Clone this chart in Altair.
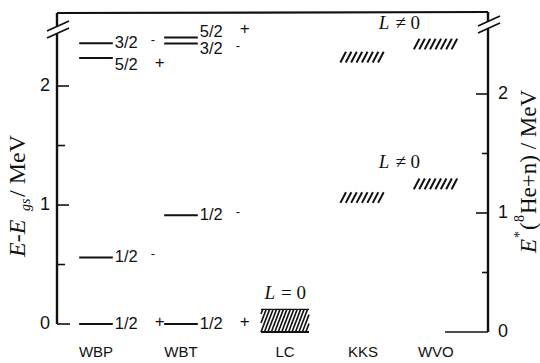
import altair as alt
import numpy as np
import pandas as pd

# ---------------- data ----------------
models = ["WBP", "WBT", "LC", "KKS", "WVO"]
model_pos = [0.905, 2.877, 5.29, 7.10, 8.79]      # column centres on the 0-10 x scale

# discrete levels, E - E_gs (MeV)
lvl_model  = ["WBP", "WBP", "WBP", "WBP", "WBT", "WBT", "WBT", "WBT"]
lvl_J      = ["1/2", "1/2", "5/2", "3/2", "1/2", "1/2", "3/2", "5/2"]
lvl_parity = ["+", "-", "+", "-", "+", "-", "-", "+"]
lvl_E      = [0.0, 0.56, 2.235, 2.36, 0.0, 0.915, 2.357, 2.408]

# hatched bands, E*(8He+n) (MeV)
band_model = ["LC", "KKS", "KKS", "WVO", "WVO"]
band_lo    = [0.0, 1.085, 2.265, 1.20, 2.375]
band_hi    = [0.19, 1.175, 2.355, 1.29, 2.465]
band_L     = ["L = 0", "L ≠ 0", "L ≠ 0", "L ≠ 0", "L ≠ 0"]

left_ticks  = [0, 0.5, 1, 1.5, 2]
right_ticks = [0, 0.5, 1, 1.5, 2]
tick_labels = [0, 1, 2]

E_STAR_ZERO = -0.067      # value of E - E_gs where E*(8He+n) = 0

# ---------------- layout / style ----------------
W, H = 431, 319
PX = 119.0                           # pixels per MeV
Y_MIN = E_STAR_ZERO
Y_MAX = Y_MIN + H / PX
INK = "#111111"
SANS = "Liberation Sans"
SERIF = "Liberation Serif"
LEVEL_HW = 0.39
BAND_HW = {"LC": 0.557, "KKS": 0.525, "WVO": 0.51}
LABEL_NUDGE = {("WBP", "5/2"): 7.0, ("WBT", "3/2"): 5.5, ("WBT", "5/2"): -5.5}

xs = alt.Scale(domain=[0, 10])
ys = alt.Scale(domain=[Y_MIN, Y_MAX])
pos = dict(zip(models, model_pos))
one = pd.DataFrame({"k": [0]})

# levels table
lv = pd.DataFrame({"model": lvl_model, "J": lvl_J, "P": lvl_parity, "E": lvl_E})
lv["xc"] = lv["model"].map(pos)
lv["x_lo"] = lv["xc"] - LEVEL_HW
lv["x_hi"] = lv["xc"] + LEVEL_HW
lv["label_y"] = [e - LABEL_NUDGE.get((m, j), 0.0) / PX for m, j, e in zip(lvl_model, lvl_J, lvl_E)]

# bands table
bd = pd.DataFrame({"model": band_model, "lo": band_lo, "hi": band_hi, "L": band_L})
bd["xc"] = bd["model"].map(pos)
bd["hw"] = bd["model"].map(BAND_HW)
bd["x_lo"] = bd["xc"] - bd["hw"]
bd["x_hi"] = bd["xc"] + bd["hw"]
bd["y_lo"] = bd["lo"] + E_STAR_ZERO
bd["y_hi"] = bd["hi"] + E_STAR_ZERO


def hatch_rows(x_lo, x_hi, y_lo, y_hi, spacing, slant, clip):
    rows = []
    if clip:
        starts = np.arange(x_lo - slant + spacing / 2, x_hi, spacing)
    else:
        starts = np.arange(x_lo, x_hi - slant + 1e-9, spacing)
    for s in starts:
        t0 = max(0.0, (x_lo - s) / slant) if clip else 0.0
        t1 = min(1.0, (x_hi - s) / slant) if clip else 1.0
        if t1 <= t0:
            continue
        rows.append(dict(x=s + slant * t0, x2=s + slant * t1,
                         y=y_lo + (y_hi - y_lo) * t0, y2=y_lo + (y_hi - y_lo) * t1))
    return rows


h_rows, l_rows = [], []
for _, r in bd.iterrows():
    if r["model"] == "LC":
        l_rows += hatch_rows(r.x_lo, r.x_hi, r.y_lo, r.y_hi, 0.08, 0.2, True)
    else:
        h_rows += hatch_rows(r.x_lo, r.x_hi, r.y_lo, r.y_hi, 0.125, 0.13, False)
hatch = pd.DataFrame(h_rows)
lhatch = pd.DataFrame(l_rows)

# L annotations
ann = []
lc = bd[bd.model == "LC"].iloc[0]
ann.append(dict(x=lc.xc, y=lc.y_hi, L=lc.L))
kk = bd[bd.model == "KKS"].sort_values("lo").reset_index(drop=True)
wv = bd[bd.model == "WVO"].sort_values("lo").reset_index(drop=True)
for a, b in zip(kk.itertuples(), wv.itertuples()):
    ann.append(dict(x=(a.xc + b.xc) / 2, y=max(a.y_hi, b.y_hi), L=a.L))
ann = pd.DataFrame(ann)
ann["head"] = ann["L"].str[0]
ann["rest"] = ann["L"].str[1:].str.strip()

layers = []

# level lines
layers.append(alt.Chart(lv).mark_rule(strokeWidth=2, color=INK).encode(
    x=alt.X("x_lo:Q", scale=xs, axis=None), x2="x_hi:Q",
    y=alt.Y("E:Q", scale=ys, axis=None)))
# J labels
layers.append(alt.Chart(lv).mark_text(align="left", baseline="middle", dx=2, font=SANS,
                                      fontSize=16.5, color=INK).encode(
    x=alt.X("x_hi:Q", scale=xs), y=alt.Y("label_y:Q", scale=ys), text="J:N"))
# parities
layers.append(alt.Chart(lv).transform_filter(alt.datum.P == "+").mark_text(
    align="center", baseline="middle", dx=47, dy=-2.5, font=SANS, fontSize=17, color=INK).encode(
    x=alt.X("x_hi:Q", scale=xs), y=alt.Y("label_y:Q", scale=ys), text="P:N"))
layers.append(alt.Chart(lv).transform_filter(alt.datum.P == "-").mark_text(
    align="center", baseline="middle", dx=40, dy=-3.5, font=SANS, fontSize=13, color=INK).encode(
    x=alt.X("x_hi:Q", scale=xs), y=alt.Y("label_y:Q", scale=ys), text="P:N"))

# hatching
layers.append(alt.Chart(hatch).mark_rule(strokeWidth=2, color=INK).encode(
    x=alt.X("x:Q", scale=xs), x2="x2:Q", y=alt.Y("y:Q", scale=ys), y2="y2:Q"))
layers.append(alt.Chart(lhatch).mark_rule(strokeWidth=1.6, color=INK).encode(
    x=alt.X("x:Q", scale=xs), x2="x2:Q", y=alt.Y("y:Q", scale=ys), y2="y2:Q"))
# LC box edges
lcb = bd[bd.model == "LC"]
layers.append(alt.Chart(lcb).mark_rule(strokeWidth=1.3, color=INK).encode(
    x=alt.X("x_lo:Q", scale=xs), x2="x_hi:Q", y=alt.Y("y_hi:Q", scale=ys)))
layers.append(alt.Chart(lcb).mark_rule(strokeWidth=2, color=INK).encode(
    x=alt.X("x_lo:Q", scale=xs), x2="x_hi:Q", y=alt.Y("y_lo:Q", scale=ys)))

# L annotations
layers.append(alt.Chart(ann).mark_text(align="right", baseline="middle", dx=-10, dy=-16, font=SERIF,
                                       fontStyle="italic", fontSize=19, color=INK).encode(
    x=alt.X("x:Q", scale=xs), y=alt.Y("y:Q", scale=ys), text="head:N"))
layers.append(alt.Chart(ann).mark_text(align="left", baseline="middle", dx=-4, dy=-16, font=SERIF,
                                       fontSize=19, color=INK).encode(
    x=alt.X("x:Q", scale=xs), y=alt.Y("y:Q", scale=ys), text="rest:N"))

# model names
mdf = pd.DataFrame({"model": models, "x": model_pos})
layers.append(alt.Chart(mdf).mark_text(align="center", baseline="middle", font=SANS, fontSize=15,
                                       color=INK).encode(
    x=alt.X("x:Q", scale=xs), y=alt.value(339), text="model:N"))

# ---------------- axes ----------------
lt = pd.DataFrame({"E": left_ticks})
rt = pd.DataFrame({"Es": right_ticks})
rt["E"] = rt["Es"] + E_STAR_ZERO


def tick_layer(df, cond, x0, x1):
    return alt.Chart(df).transform_filter(cond).mark_rule(strokeWidth=1.6, color=INK).encode(
        x=alt.value(x0), x2=alt.value(x1), y=alt.Y("E:Q", scale=ys))


layers.append(tick_layer(lt, alt.datum.E == 0, 0, 13))
layers.append(tick_layer(lt, (alt.datum.E == 1) | (alt.datum.E == 2), 0, 12))
layers.append(tick_layer(lt, (alt.datum.E == 0.5) | (alt.datum.E == 1.5), 0, 8))
layers.append(tick_layer(rt, alt.datum.Es == 0, W - 43, W))
layers.append(tick_layer(rt, (alt.datum.Es == 1) | (alt.datum.Es == 2), W - 12, W))
layers.append(tick_layer(rt, (alt.datum.Es == 0.5) | (alt.datum.Es == 1.5), W - 6, W))

tl = pd.DataFrame({"v": tick_labels})
tl["E"] = tl["v"].astype(float)
tl["Er"] = tl["v"] + E_STAR_ZERO
layers.append(alt.Chart(tl).mark_text(align="right", baseline="middle", font=SANS, fontSize=18,
                                      color=INK).encode(
    x=alt.value(-7), y=alt.Y("E:Q", scale=ys), text="v:N"))
layers.append(alt.Chart(tl).mark_text(align="left", baseline="middle", font=SANS, fontSize=18,
                                      color=INK).encode(
    x=alt.value(W + 10), y=alt.Y("Er:Q", scale=ys), text="v:N"))

# axis lines (with breaks)
layers.append(alt.Chart(pd.DataFrame({"E": [0.0]})).mark_rule(strokeWidth=2.4, color=INK).encode(
    x=alt.value(0), y=alt.Y("E:Q", scale=ys), y2=alt.value(20.5)))
layers.append(alt.Chart(pd.DataFrame({"E": [E_STAR_ZERO]})).mark_rule(strokeWidth=2.4, color=INK).encode(
    x=alt.value(W), y=alt.Y("E:Q", scale=ys), y2=alt.value(15.5)))


def seg(x0, y0, x1, y1, w=2.2):
    return alt.Chart(one).mark_rule(strokeWidth=w, color=INK).encode(
        x=alt.value(x0), x2=alt.value(x1), y=alt.value(y0), y2=alt.value(y1))


layers.append(seg(0, 0, W, -1, 2.2))          # top frame
layers.append(seg(0, 0, 0, 13.5, 2.4))
layers.append(seg(W, -1, W, 8.5, 2.4))
for c in (13.5, 20.5):
    layers.append(seg(-10, c + 4.5, 12, c - 5.5, 1.8))
for c in (8.5, 15.5):
    layers.append(seg(W - 10, c + 4.5, W + 12, c - 5.5, 1.8))


def txt(s, x, y, size, italic=False):
    kw = dict(align="left", baseline="middle", angle=270, font=SERIF, fontSize=size, color=INK)
    if italic:
        kw["fontStyle"] = "italic"
    return alt.Chart(one).mark_text(**kw).encode(x=alt.value(x), y=alt.value(y), text=alt.value(s))


# left title: E-E_gs / MeV
layers.append(txt("E-E", -39.5, 244, 24, True))
layers.append(txt("gs", -31, 198, 14, True))
layers.append(txt("/ MeV", -39.5, 184, 24))
# right title: E*(8He+n) / MeV
layers.append(txt("E", 471.5, 240, 23, True))
layers.append(txt("*", 463, 225, 14))
layers.append(txt("(", 471.5, 217, 23))
layers.append(txt("8", 463, 209, 14))
layers.append(txt("He+n) / MeV", 471.5, 201, 23))

chart = alt.layer(*layers).properties(
    width=W, height=H,
    padding={"left": 57, "top": 13, "right": 52, "bottom": 31},
    autosize=alt.AutoSizeParams(type="none"),
).configure_view(stroke=None)

chart.save("out.html", embed_options={"renderer": "svg", "actions": False})
